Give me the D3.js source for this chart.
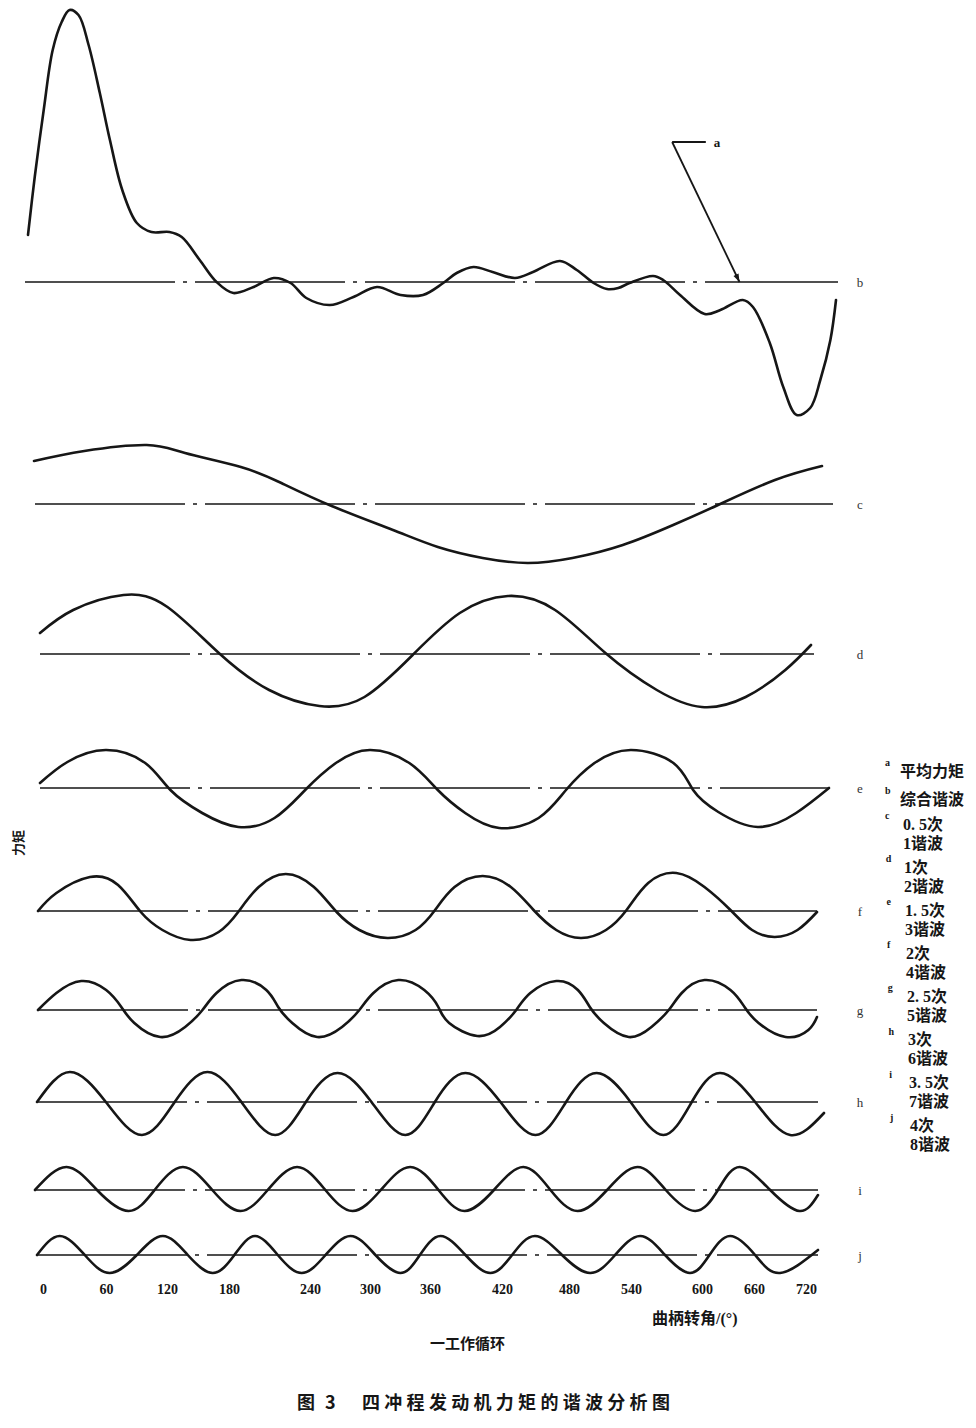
<!DOCTYPE html>
<html>
<head>
<meta charset="utf-8">
<script src="https://cdnjs.cloudflare.com/ajax/libs/d3/7.8.5/d3.min.js"></script>
<style>
body { margin: 0; background: #fff; }
svg { display: block; }
</style>
</head>
<body>
<div id="chart"></div>
<script>
// crank angle ticks, degrees
var angleTicks = [0, 60, 120, 180, 240, 300, 360, 420, 480, 540, 600, 660, 720];

// b: resultant torque (arbitrary torque units)
var synthAngle = [0, 6, 14, 22, 30, 37, 45, 54, 64, 73, 84, 97, 110, 126, 137, 153, 168, 183, 201, 219,
    234, 248, 269, 290, 311, 332, 352, 370, 382, 397, 414, 434, 450, 474, 489, 504, 516, 526, 536, 557,
    566, 581, 603, 617, 637, 646, 661, 673, 685, 697, 706, 715, 720];
var synthValue = [47, 105, 172, 232, 260, 272, 267, 237, 189, 142, 92, 59, 50, 50, 45, 22, 0, -11, -5, 4,
    -1, -16, -23, -15, -5, -13, -13, -1, 9, 15, 10, 4, 10, 21, 12, -1, -7, -6, -1, 6,
    2, -13, -32, -28, -18, -25, -61, -105, -133, -126, -98, -58, -18];

// c .. j: harmonics
var cAngle = [0, 46, 103, 138, 189, 226, 272, 328, 369, 410, 451, 492, 538, 584, 625, 677, 720];
var cValue = [43, 53, 59, 51, 37, 21, -2, -26, -43, -54, -59, -54, -41, -21, -1, 24, 38];

var dAngle = [0, 31, 78, 119, 167, 214, 261, 303, 348, 392, 437, 481, 528, 576, 618, 659, 696, 720];
var dValue = [21, 44, 59, 47, 1, -36, -52, -43, -1, 41, 58, 44, 1, -36, -53, -43, -16, 9];

var eAngle = [0, 25, 60, 96, 119, 148, 181, 214, 242, 270, 301, 337, 363, 388, 419, 455, 480, 506, 539, 578,
    596, 619, 655, 690, 720];
var eValue = [5, 26, 38, 25, -2, -25, -39, -30, -2, 25, 38, 25, -2, -25, -40, -30, -2, 25, 38, 25,
    -2, -24, -39, -25, 0];

var fAngle = [0, 17, 48, 74, 95, 115, 141, 167, 185, 204, 229, 255, 276, 297, 323, 349, 367, 385, 411, 437,
    458, 479, 502, 525, 544, 564, 590, 616, 640, 660, 681, 702, 720];
var fValue = [0, 18, 34, 26, -1, -19, -29, -21, -1, 24, 37, 24, -1, -19, -27, -19, 1, 24, 35, 24,
    1, -19, -27, -19, 1, 28, 38, 24, 1, -19, -26, -19, -1];

var gAngle = [0, 17, 40, 63, 77, 89, 113, 136, 152, 165, 188, 211, 222, 235, 258, 281, 297, 310, 333, 357,
    370, 380, 406, 427, 442, 455, 479, 499, 510, 523, 546, 567, 583, 595, 616, 640, 653, 666, 691, 712, 720];
var gValue = [0, 17, 29, 20, 3, -13, -27, -17, 0, 17, 30, 20, 3, -13, -27, -17, 0, 17, 30, 20,
    3, -13, -26, -17, 0, 17, 29, 20, 3, -13, -27, -17, 0, 17, 30, 20, 3, -13, -27, -20, -7];

var hAngle = [0, 30, 63, 96, 126, 156, 187, 218, 246, 275, 306, 337, 364, 392, 424, 456, 484, 512, 543, 573,
    599, 625, 657, 689, 720];
var hValue = [0, 30, 0, -33, 0, 30, 0, -33, 0, 29, 0, -33, 0, 29, 0, -33, 0, 29, 0, -33,
    0, 29, 0, -33, -11];

var iAngle = [0, 29, 57, 86, 110, 136, 163, 189, 214, 241, 267, 292, 318, 345, 371, 395, 422, 449, 474, 499,
    526, 554, 580, 607, 628, 648, 676, 703, 720];
var iValue = [0, 23, 0, -21, 0, 23, 0, -21, 0, 23, 0, -21, 0, 23, 0, -21, 0, 23, 0, -21,
    0, 23, 0, -21, 0, 23, 0, -21, -5];

var jAngle = [0, 21, 44, 67, 92, 116, 139, 162, 182, 201, 222, 244, 266, 289, 312, 335, 353, 372, 395, 418,
    438, 459, 484, 510, 533, 556, 579, 602, 620, 639, 662, 685, 720];
var jValue = [0, 19, 0, -18, 0, 19, 0, -18, 0, 19, 0, -18, 0, 19, 0, -18, 0, 19, 0, -18,
    0, 19, 0, -18, 0, 19, 0, -18, 0, 19, 0, -18, 5];

// leader "a" -> mean torque line of b: [corner, end of tick, arrow tip]
var annotAngle = [574, 604, 634];
var annotValue = [140, 140, 0];

// legend texts
var legendKeys = ["a", "b", "c", "d", "e", "f", "g", "h", "i", "j"];
var legendNames = ["平均力矩", "综合谐波"];
var orderLabels = ["0. 5次", "1次", "1. 5次", "2次", "2. 5次", "3次", "3. 5次", "4次"];
var harmonicLabels = ["1谐波", "2谐波", "3谐波", "4谐波", "5谐波", "6谐波", "7谐波", "8谐波"];

var w = 976;
var h = 1428;
var ink = "#161616";
var serif = "'Liberation Serif', 'Noto Sans CJK SC', serif";
var cjk = "'Noto Sans CJK SC', sans-serif";

var svg = d3.select("#chart")
    .append("svg")
    .attr("width", w)
    .attr("height", h);

// one strip per curve: baseline y and horizontal extent
var panels = [
    {name: "b", angle: synthAngle, value: synthValue, base: 282, x0: 28, x1: 836, l0: 25, l1: 838},
    {name: "c", angle: cAngle, value: cValue, base: 504, x0: 34, x1: 822, l0: 35, l1: 833},
    {name: "d", angle: dAngle, value: dValue, base: 654, x0: 40, x1: 811, l0: 40, l1: 814},
    {name: "e", angle: eAngle, value: eValue, base: 788, x0: 40, x1: 829, l0: 40, l1: 829},
    {name: "f", angle: fAngle, value: fValue, base: 911, x0: 38, x1: 817, l0: 38, l1: 817},
    {name: "g", angle: gAngle, value: gValue, base: 1010, x0: 38, x1: 817, l0: 38, l1: 817},
    {name: "h", angle: hAngle, value: hValue, base: 1102, x0: 37, x1: 824, l0: 37, l1: 818},
    {name: "i", angle: iAngle, value: iValue, base: 1190, x0: 35, x1: 818, l0: 35, l1: 818},
    {name: "j", angle: jAngle, value: jValue, base: 1255, x0: 37, x1: 818, l0: 37, l1: 818}
];

var bx, by;

panels.forEach(function(p) {
    var x = d3.scaleLinear().domain([0, 720]).range([p.x0, p.x1]);
    var y = d3.scaleLinear().domain([0, 100]).range([p.base, p.base - 100]);
    if (p.name == "b") { bx = x; by = y; }

    var g = svg.append("g").attr("class", "strip");

    // mean line, dash-dot
    g.append("line")
        .attr("x1", p.l0)
        .attr("x2", p.l1)
        .attr("y1", y(0))
        .attr("y2", y(0))
        .attr("stroke", ink)
        .attr("stroke-width", 1.4)
        .attr("stroke-dasharray", "150,8,4,8");

    var pts = p.angle.map(function(a, i) {
        return [a, p.value[i]];
    });

    // harmonics are smooth waves, the resultant keeps its sharper bends
    var line = d3.line()
        .x(function(d) { return x(d[0]); })
        .y(function(d) { return y(d[1]); })
        .curve(p.name == "b" ? d3.curveCatmullRom.alpha(0.5) : d3.curveNatural);

    g.append("path")
        .datum(pts)
        .attr("d", line)
        .attr("fill", "none")
        .attr("stroke", ink)
        .attr("stroke-width", 2.6)
        .attr("stroke-linejoin", "round")
        .attr("stroke-linecap", "round");

    g.append("text")
        .attr("x", 860)
        .attr("y", y(0))
        .attr("dy", "0.35em")
        .attr("text-anchor", "middle")
        .attr("font-family", serif)
        .attr("font-size", 13)
        .attr("fill", "#333")
        .text(p.name);
});

// annotation a
svg.append("defs").append("marker")
    .attr("id", "arrow")
    .attr("viewBox", "0 0 10 10")
    .attr("refX", 10)
    .attr("refY", 5)
    .attr("markerWidth", 10)
    .attr("markerHeight", 8)
    .attr("markerUnits", "userSpaceOnUse")
    .attr("orient", "auto")
    .append("path")
    .attr("d", "M0,1.5 L10,5 L0,8.5 Z")
    .attr("fill", ink);

svg.append("line")
    .attr("x1", bx(annotAngle[0])).attr("y1", by(annotValue[0]))
    .attr("x2", bx(annotAngle[1])).attr("y2", by(annotValue[1]))
    .attr("stroke", ink).attr("stroke-width", 1.8);

svg.append("line")
    .attr("x1", bx(annotAngle[0])).attr("y1", by(annotValue[0]))
    .attr("x2", bx(annotAngle[2])).attr("y2", by(annotValue[2]))
    .attr("stroke", ink).attr("stroke-width", 1.8)
    .attr("marker-end", "url(#arrow)");

svg.append("text")
    .attr("x", bx(annotAngle[1]) + 8)
    .attr("y", by(annotValue[1]))
    .attr("dy", "0.35em")
    .attr("font-family", serif)
    .attr("font-weight", "bold")
    .attr("font-size", 13)
    .attr("fill", ink)
    .text("a");

// crank angle axis (hand-lettered spacing of the original)
var tickPos = [43, 106, 167, 229, 310, 370, 430, 502, 569, 631, 702, 754, 806];
var tickX = d3.scaleLinear().domain(angleTicks).range(tickPos);
var xAxis = d3.axisBottom(tickX).tickValues(angleTicks).tickSize(0).tickPadding(0);

var axisG = svg.append("g")
    .attr("transform", "translate(0,1284)")
    .call(xAxis);
axisG.select(".domain").remove();
axisG.selectAll("text")
    .attr("font-family", serif)
    .attr("font-weight", "bold")
    .attr("font-size", 14)
    .attr("fill", ink);
axisG.attr("font-family", null).attr("font-size", null);

svg.append("text")
    .attr("x", 652)
    .attr("y", 1324)
    .attr("font-family", serif)
    .attr("font-weight", "bold")
    .attr("font-size", 16)
    .attr("fill", ink)
    .text("曲柄转角/(°)");

svg.append("text")
    .attr("x", 430)
    .attr("y", 1349)
    .attr("font-family", cjk)
    .attr("font-weight", "bold")
    .attr("font-size", 15)
    .attr("fill", ink)
    .text("一工作循环");

// y label
svg.append("text")
    .attr("transform", "translate(18,843) rotate(-90)")
    .attr("text-anchor", "middle")
    .attr("dy", "0.35em")
    .attr("font-family", cjk)
    .attr("font-weight", "bold")
    .attr("font-size", 13)
    .attr("fill", ink)
    .text("力矩");

// legend
var legend = svg.append("g").attr("class", "legend");

function legendRow(key, lines, sx, tx, ty) {
    legend.append("text")
        .attr("x", sx)
        .attr("y", ty - 5)
        .attr("font-family", serif)
        .attr("font-weight", "bold")
        .attr("font-size", 10)
        .attr("fill", ink)
        .text(key);
    lines.forEach(function(t, i) {
        legend.append("text")
            .attr("x", tx)
            .attr("y", ty + i * 19)
            .attr("dy", "0.35em")
            .attr("font-family", serif)
            .attr("font-weight", "bold")
            .attr("font-size", 16)
            .attr("fill", ink)
            .text(t);
    });
}

legendNames.forEach(function(n, i) {
    legendRow(legendKeys[i], [n], 885, 900, 771 + i * 28);
});
orderLabels.forEach(function(o, k) {
    legendRow(legendKeys[k + 2], [o, harmonicLabels[k]], 885 + k * 0.7, 903 + k, 824 + k * 43.1);
});

// caption
svg.append("text")
    .attr("x", 297)
    .attr("y", 1409)
    .attr("font-family", cjk)
    .attr("font-weight", "bold")
    .attr("font-size", 18)
    .attr("fill", ink)
    .attr("word-spacing", 6)
    .text("图 3");

svg.append("text")
    .attr("x", 362)
    .attr("y", 1409)
    .attr("font-family", cjk)
    .attr("font-weight", "bold")
    .attr("font-size", 18)
    .attr("letter-spacing", 4.3)
    .attr("fill", ink)
    .text("四冲程发动机力矩的谐波分析图");
</script>
</body>
</html>
